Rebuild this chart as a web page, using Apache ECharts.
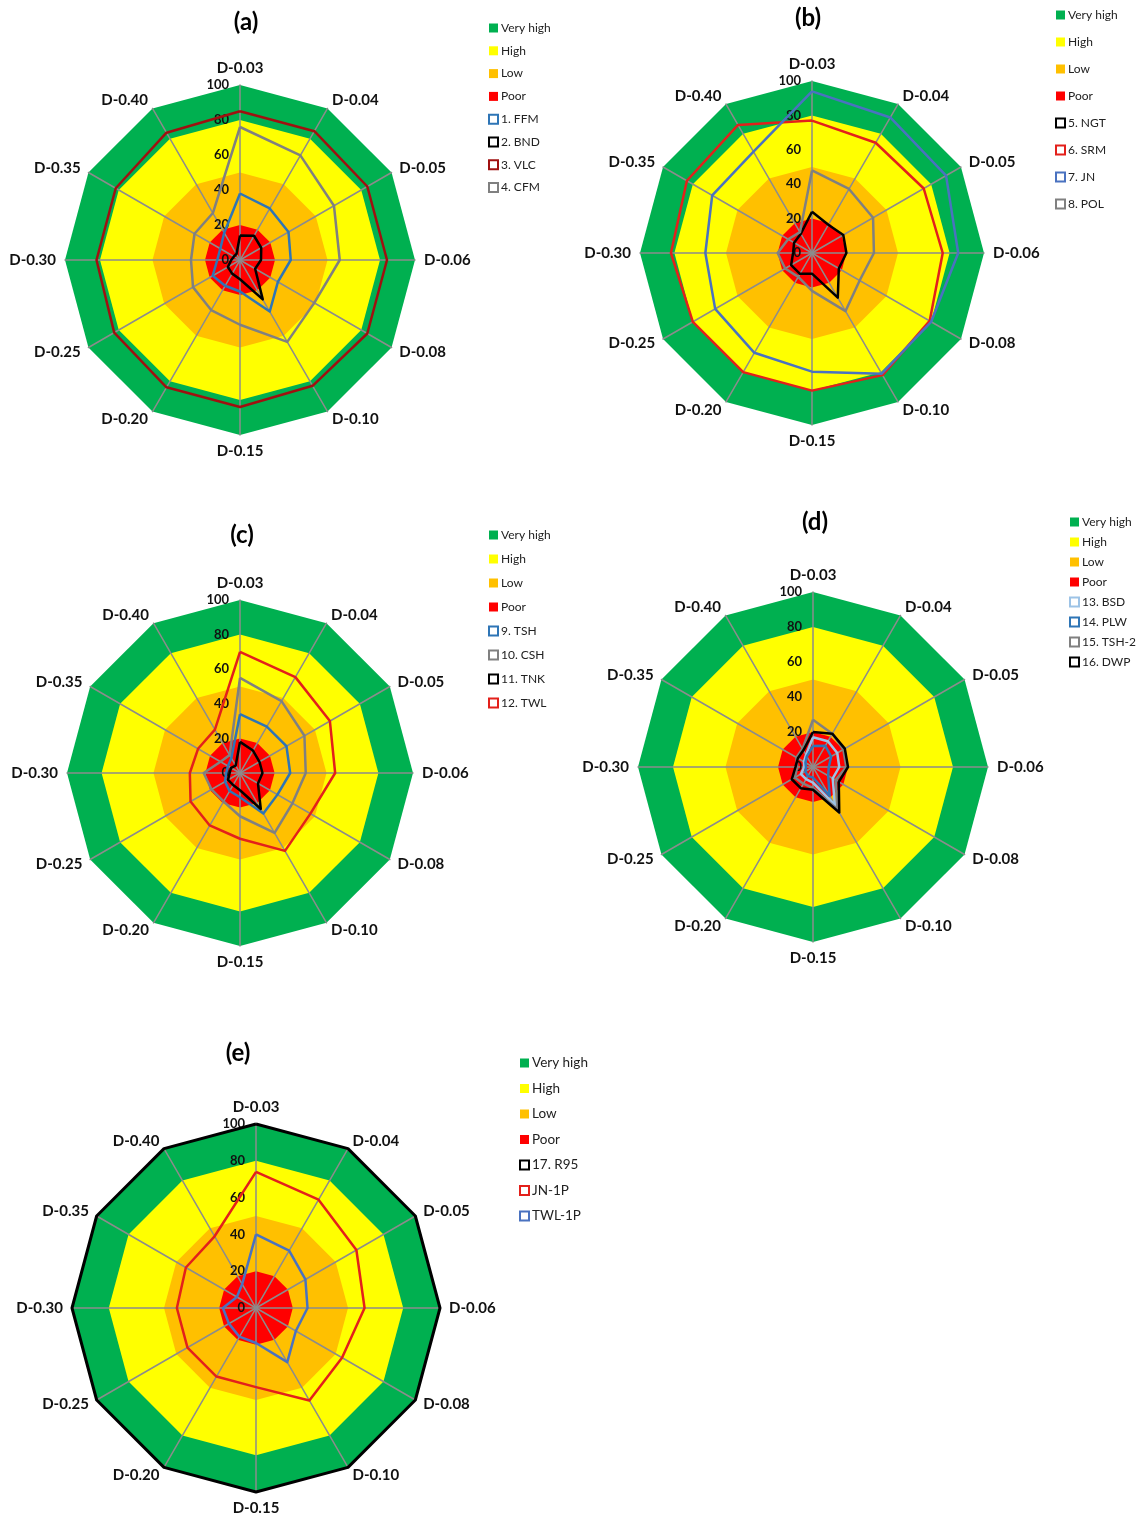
<!DOCTYPE html>
<html>
<head>
<meta charset="utf-8">
<script src="https://cdn.jsdelivr.net/npm/echarts@6/dist/echarts.min.js"></script>
<style>
  html, body { margin: 0; padding: 0; background: #fff; }
  #chart { width: 1142px; height: 1522px; }
</style>
</head>
<body>
<div id="chart"></div>
<script>
// Spoke labels, clockwise from the top
const axes = ['D-0.03', 'D-0.04', 'D-0.05', 'D-0.06', 'D-0.08', 'D-0.10',
              'D-0.15', 'D-0.20', 'D-0.25', 'D-0.30', 'D-0.35', 'D-0.40'];

// Rating bands (upper limit of each band)
const bandNames = ['Very high', 'High', 'Low', 'Poor'];
const bandLimits = [100, 80, 50, 20];

// Panel (a)
const ffm = [38, 34, 32, 29, 25, 34, 18, 17, 18, 13, 13, 18];
const bnd = [14, 16, 14, 12, 10, 26, 11, 9, 8, 5, 4, 4];
const vlc = [85, 85, 84, 84, 84, 83, 84, 84, 83, 82, 82, 84];
const cfm = [76, 69, 62, 57, 49, 54, 37, 33, 31, 28, 30, 31];

// Panel (b)
const ngt = [24, 19, 21, 20, 18, 30, 12, 14, 14, 11, 12, 13];
const srm = [77, 74, 75, 76, 79, 82, 80, 80, 80, 82, 84, 86];
const jn = [94, 91, 90, 85, 80, 81, 69, 67, 65, 62, 67, 68];
const pol = [48, 43, 41, 36, 32, 39, 22, 16, 18, 20, 16, 14];

// Panel (c)
const tsh = [34, 31, 31, 29, 25, 27, 14, 12, 10, 8, 8, 10];
const csh = [55, 48, 43, 38, 35, 40, 25, 19, 19, 21, 13, 12];
const tnk = [18, 15, 13, 13, 12, 24, 10, 8, 8, 6, 6, 5];
const twl = [70, 64, 60, 55, 47, 52, 38, 35, 33, 29, 28, 29];

// Panel (d)
const bsd = [17, 17, 16, 15, 13, 25, 9, 8, 8, 5, 6, 8];
const plw = [12, 14, 12, 9, 10, 19, 6, 6, 5, 4, 5, 7];
const tsh2 = [27, 22, 20, 19, 15, 28, 12, 11, 12, 9, 11, 12];
const dwp = [20, 22, 21, 20, 17, 30, 13, 14, 14, 10, 10, 11];

// Panel (e)
const r95 = [100, 100, 100, 100, 100, 100, 100, 100, 100, 100, 100, 100];
const jn1p = [74, 68, 63, 59, 54, 58, 43, 43, 43, 43, 44, 45];
const twl1p = [40, 36, 31, 28, 25, 34, 19, 18, 17, 18, 12, 15];

const BAND_COLORS = ['#00b050', '#ffff00', '#ffc000', '#ff0000'];
const FONT = 'Lato, "Liberation Sans", sans-serif';

const panels = [
  { title: '(a)', tx: 246, ty: 22, cx: 240, cy: 260, r: 175,
    legend: { x: 488, y: 21, step: 22.8, fs: 12 },
    series: [
      { name: '1. FFM', data: ffm, color: '#2e75b6' },
      { name: '2. BND', data: bnd, color: '#000000' },
      { name: '3. VLC', data: vlc, color: '#a01010' },
      { name: '4. CFM', data: cfm, color: '#808080' }
    ] },
  { title: '(b)', tx: 808, ty: 18, cx: 812, cy: 253, r: 172,
    legend: { x: 1055, y: 8, step: 27, fs: 12 },
    series: [
      { name: '5. NGT', data: ngt, color: '#000000' },
      { name: '6. SRM', data: srm, color: '#e3201b' },
      { name: '7. JN', data: jn, color: '#4a72c0' },
      { name: '8. POL', data: pol, color: '#808080' }
    ] },
  { title: '(c)', tx: 242, ty: 535, cx: 240, cy: 773, r: 173,
    legend: { x: 488, y: 528, step: 24, fs: 12 },
    series: [
      { name: '9. TSH', data: tsh, color: '#2e75b6' },
      { name: '10. CSH', data: csh, color: '#808080' },
      { name: '11. TNK', data: tnk, color: '#000000' },
      { name: '12. TWL', data: twl, color: '#e3201b' }
    ] },
  { title: '(d)', tx: 815, ty: 522, cx: 813, cy: 767, r: 175,
    legend: { x: 1069, y: 515, step: 20, fs: 12 },
    series: [
      { name: '13. BSD', data: bsd, color: '#9dc3e6' },
      { name: '14. PLW', data: plw, color: '#2e75b6' },
      { name: '15. TSH-2', data: tsh2, color: '#808080' },
      { name: '16. DWP', data: dwp, color: '#000000' }
    ] },
  { title: '(e)', tx: 238, ty: 1053, cx: 256, cy: 1308, r: 184,
    legend: { x: 519, y: 1056, step: 25.5, fs: 13.5 },
    series: [
      { name: '17. R95', data: r95, color: '#000000', width: 3 },
      { name: 'JN-1P', data: jn1p, color: '#e3201b' },
      { name: 'TWL-1P', data: twl1p, color: '#4a72c0' }
    ] }
];

// ECharts lays radar indicators out counter-clockwise; reverse all but the first
function toRadarOrder(arr) {
  return [arr[0]].concat(arr.slice(1).reverse());
}

const radars = [];
const titles = [];
const legends = [];
const series = [];

panels.forEach(function (p, pi) {
  radars.push({
    center: [p.cx, p.cy],
    radius: p.r,
    startAngle: 90,
    shape: 'polygon',
    splitNumber: 5,
    z: 2,
    indicator: toRadarOrder(axes).map(function (name, i) {
      const ind = { name: name, min: 0, max: 100 };
      if (i === 0) ind.axisLabel = { show: true };
      return ind;
    }),
    axisName: { color: '#111', fontFamily: FONT, fontWeight: 'bold', fontSize: 15 },
    nameGap: 9,
    axisLine: { show: true, lineStyle: { color: '#8c8c8c', width: 1.5 } },
    splitLine: { show: false },
    splitArea: { show: false },
    axisTick: { show: false },
    axisLabel: { show: false, color: '#111', fontFamily: FONT, fontWeight: 'bold', fontSize: 13, margin: 11 }
  });

  titles.push({
    text: p.title, left: p.tx, top: p.ty, textAlign: 'center', textVerticalAlign: 'middle',
    padding: 0,
    textStyle: { fontFamily: FONT, fontWeight: 'bold', fontSize: 24, color: '#000' }
  });

  // Rating bands, drawn as filled polygons under the spokes
  bandNames.forEach(function (bn, bi) {
    series.push({
      type: 'radar', radarIndex: pi, name: bn, z: 1, silent: true,
      symbol: 'none',
      lineStyle: { width: 0 },
      itemStyle: { color: BAND_COLORS[bi] },
      areaStyle: { color: BAND_COLORS[bi], opacity: 1 },
      data: [{ value: axes.map(function () { return bandLimits[bi]; }), name: bn }]
    });
  });

  p.series.forEach(function (s) {
    series.push({
      type: 'radar', radarIndex: pi, name: s.name, z: 3,
      symbol: 'none',
      lineStyle: { width: s.width || 2.5, color: s.color },
      itemStyle: { color: s.color },
      data: [{ value: toRadarOrder(s.data), name: s.name }]
    });
  });

  const lh = 14;
  legends.push({
    orient: 'vertical', left: p.legend.x, top: p.legend.y,
    itemWidth: 9, itemHeight: 9, itemGap: p.legend.step - lh,
    padding: 0, selectedMode: false,
    textStyle: { fontFamily: FONT, fontSize: p.legend.fs, color: '#222', lineHeight: lh, padding: [0, 0, 0, -2] },
    data: bandNames.map(function (bn, bi) {
      return { name: bn, icon: 'rect', itemStyle: { color: BAND_COLORS[bi], borderWidth: 0 } };
    }).concat(p.series.map(function (s) {
      return { name: s.name, icon: 'rect', itemStyle: { color: '#ffffff', borderColor: s.color, borderWidth: 2 } };
    }))
  });
});

const chart = echarts.init(document.getElementById('chart'), null, { renderer: 'canvas' });
chart.setOption({
  backgroundColor: '#ffffff',
  animation: false,
  title: titles,
  legend: legends,
  radar: radars,
  series: series
});
</script>
</body>
</html>
